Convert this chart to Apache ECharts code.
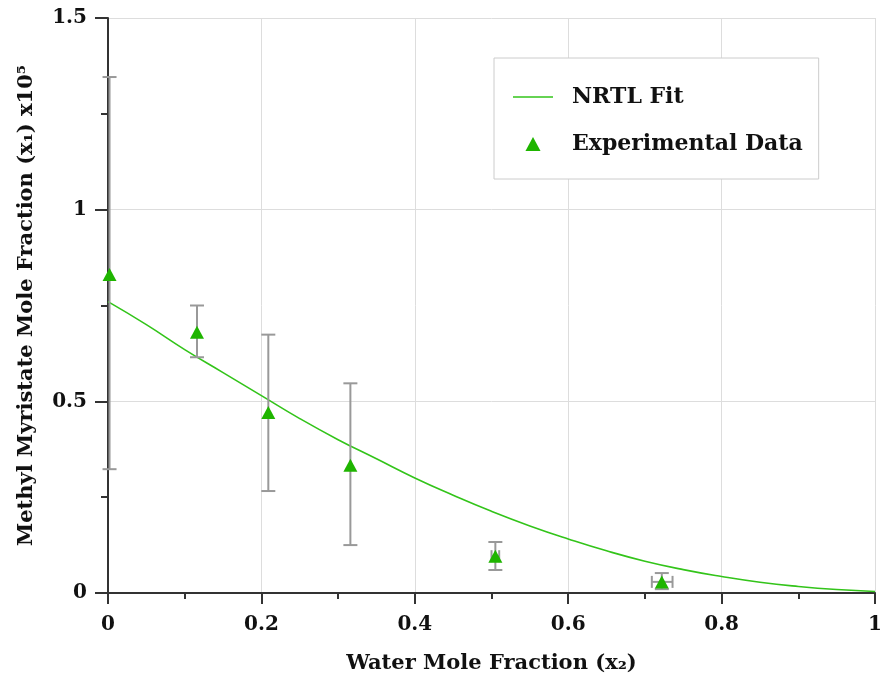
<!DOCTYPE html>
<html>
<head>
<meta charset="utf-8">
<script src="https://cdn.jsdelivr.net/npm/echarts@6/dist/echarts.min.js"></script>
<style>
html,body{margin:0;padding:0;background:#fff;}
#chart{width:885px;height:679px;}
</style>
</head>
<body>
<div id="chart"></div>
<script>
// NRTL fit curve
var fitX = [0, 0.05, 0.1, 0.15, 0.2, 0.25, 0.3, 0.35, 0.4, 0.45, 0.5, 0.55, 0.6, 0.65, 0.7, 0.75, 0.8, 0.85, 0.9, 0.95, 1.0];
var fitY = [0.76, 0.70, 0.635, 0.575, 0.515, 0.455, 0.40, 0.35, 0.30, 0.255, 0.213, 0.175, 0.141, 0.11, 0.083, 0.061, 0.043, 0.028, 0.017, 0.009, 0.004];
// Experimental data
var expX = [0.002, 0.116, 0.209, 0.316, 0.505, 0.722];
var expY = [0.831, 0.680, 0.471, 0.333, 0.096, 0.029];
var errYLow = [0.323, 0.615, 0.266, 0.125, 0.060, 0.010];
var errYHigh = [1.346, 0.750, 0.674, 0.547, 0.133, 0.052];
var errXLow = [0.002, 0.116, 0.209, 0.316, 0.500, 0.709];
var errXHigh = [0.002, 0.116, 0.209, 0.316, 0.510, 0.736];

var FONT = 'DejaVu Serif';
var green = '#1fb500';
var lineGreen = '#33c41a';

var fitData = fitX.map(function (x, i) { return [x, fitY[i]]; });
var expData = expX.map(function (x, i) { return [x, expY[i]]; });
var errData = expX.map(function (x, i) {
  return [x, expY[i], errYLow[i], errYHigh[i], errXLow[i], errXHigh[i]];
});

var chart = echarts.init(document.getElementById('chart'));
chart.setOption({
  animation: false,
  backgroundColor: '#fff',
  grid: { left: 108, right: 8, top: 18, bottom: 85, containLabel: false },
  legend: {
    orient: 'vertical',
    left: 494, top: 58,
    padding: [28, 16, 24, 19],
    itemGap: 25,
    itemWidth: 40, itemHeight: 14,
    symbolKeepAspect: true,
    backgroundColor: '#fff',
    borderColor: '#cccccc', borderWidth: 1,
    textStyle: { fontFamily: FONT, fontWeight: 'bold', fontSize: 22, color: '#111', padding: [0, 0, 0, 14] },
    data: [
      { name: 'NRTL Fit', icon: 'path://M0,0 L40,0 L40,1.6 L0,1.6 Z' },
      { name: 'Experimental Data', icon: 'path://M7,0 L14,13 L0,13 Z' }
    ]
  },
  xAxis: {
    type: 'value', min: 0, max: 1, interval: 0.2,
    name: 'Water Mole Fraction (x\u2082)',
    nameLocation: 'middle', nameGap: 60,
    nameTextStyle: { fontFamily: FONT, fontWeight: 'bold', fontSize: 21, color: '#111' },
    axisLine: { show: true, onZero: false, lineStyle: { color: '#333', width: 2 } },
    axisTick: { show: true, length: 11, lineStyle: { color: '#333', width: 2 } },
    minorTick: { show: true, splitNumber: 2, length: 6, lineStyle: { color: '#333', width: 2 } },
    axisLabel: { fontFamily: FONT, fontWeight: 'bold', fontSize: 20, color: '#111', margin: 22 },
    splitLine: { show: true, lineStyle: { color: '#dddddd', width: 1 } }
  },
  yAxis: {
    type: 'value', min: 0, max: 1.5, interval: 0.5,
    name: 'Methyl Myristate Mole Fraction (x\u2081) x10\u2075',
    nameLocation: 'middle', nameGap: 71,
    nameTextStyle: { fontFamily: FONT, fontWeight: 'bold', fontSize: 21, color: '#111' },
    axisLine: { show: true, onZero: false, lineStyle: { color: '#333', width: 2 } },
    axisTick: { show: true, length: 13, lineStyle: { color: '#333', width: 2 } },
    minorTick: { show: true, splitNumber: 2, length: 7, lineStyle: { color: '#333', width: 2 } },
    axisLabel: { fontFamily: FONT, fontWeight: 'bold', fontSize: 20, color: '#111', margin: 21 },
    splitLine: { show: true, lineStyle: { color: '#dddddd', width: 1 } }
  },
  series: [
    {
      name: 'NRTL Fit', type: 'line', data: fitData, smooth: true,
      symbol: 'none', showSymbol: false,
      lineStyle: { color: lineGreen, width: 1.6 },
      itemStyle: { color: lineGreen }, z: 3
    },
    {
      name: 'errors', type: 'custom', data: errData, z: 4,
      renderItem: function (params, api) {
        var x = api.value(0), y = api.value(1);
        var lo = api.coord([x, api.value(2)]);
        var hi = api.coord([x, api.value(3)]);
        var c = api.coord([x, y]);
        var cap = 7;
        var st = { stroke: '#999999', lineWidth: 2 };
        var kids = [
          { type: 'line', shape: { x1: lo[0], y1: lo[1], x2: hi[0], y2: hi[1] }, style: st },
          { type: 'line', shape: { x1: lo[0] - cap, y1: lo[1], x2: lo[0] + cap, y2: lo[1] }, style: st },
          { type: 'line', shape: { x1: hi[0] - cap, y1: hi[1], x2: hi[0] + cap, y2: hi[1] }, style: st }
        ];
        var xl = api.coord([api.value(4), y]);
        var xh = api.coord([api.value(5), y]);
        if (xh[0] - xl[0] > 2) {
          var capv = 6;
          kids.push({ type: 'line', shape: { x1: xl[0], y1: c[1], x2: xh[0], y2: c[1] }, style: st });
          kids.push({ type: 'line', shape: { x1: xl[0], y1: c[1] - capv, x2: xl[0], y2: c[1] + capv }, style: st });
          kids.push({ type: 'line', shape: { x1: xh[0], y1: c[1] - capv, x2: xh[0], y2: c[1] + capv }, style: st });
        }
        return { type: 'group', children: kids };
      }
    },
    {
      name: 'Experimental Data', type: 'scatter', data: expData,
      symbol: 'triangle', symbolSize: [14, 13],
      itemStyle: { color: green, opacity: 1 }, z: 5
    }
  ]
});
</script>
</body>
</html>
